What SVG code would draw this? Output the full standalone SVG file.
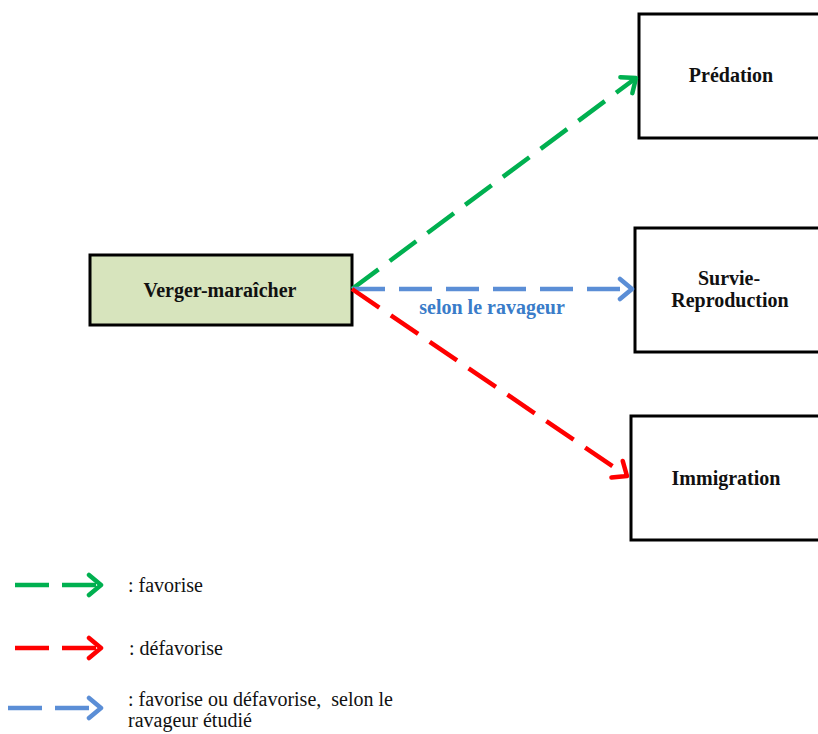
<svg xmlns="http://www.w3.org/2000/svg" width="818" height="734" viewBox="0 0 818 734">
  <style>
    .box { fill: #ffffff; stroke: #000000; stroke-width: 3; }
    .main { fill: #d7e4bd; }
    .lbl { font-family: "Liberation Serif", "Times New Roman", serif; font-size: 20px; font-weight: bold; fill: #111111; text-anchor: middle; }
    .leg { font-family: "Liberation Serif", "Times New Roman", serif; font-size: 20px; fill: #111111; white-space: pre; }
    .conn { fill: none; stroke-width: 4.5; stroke-dasharray: 33 14; }
    .g { stroke: #00b050; }
    .r { stroke: #ff0000; }
    .b { stroke: #5b8ed6; }
  </style>
  <defs>
    <marker id="ag" markerUnits="userSpaceOnUse" markerWidth="30" markerHeight="30" viewBox="-15 -15 30 30" refX="0" refY="0" orient="auto">
      <path d="M -12 -10 L 0 0 L -12 10" fill="none" stroke="#00b050" stroke-width="4.5" stroke-linecap="round" stroke-linejoin="round"/>
    </marker>
    <marker id="ar" markerUnits="userSpaceOnUse" markerWidth="30" markerHeight="30" viewBox="-15 -15 30 30" refX="0" refY="0" orient="auto">
      <path d="M -12 -10 L 0 0 L -12 10" fill="none" stroke="#ff0000" stroke-width="4.5" stroke-linecap="round" stroke-linejoin="round"/>
    </marker>
    <marker id="ab" markerUnits="userSpaceOnUse" markerWidth="30" markerHeight="30" viewBox="-15 -15 30 30" refX="0" refY="0" orient="auto">
      <path d="M -12 -10 L 0 0 L -12 10" fill="none" stroke="#5b8ed6" stroke-width="4.5" stroke-linecap="round" stroke-linejoin="round"/>
    </marker>
  </defs>
  <rect width="818" height="734" fill="#ffffff"/>

  <g id="node-verger">
    <rect class="box main" x="90" y="255" width="262" height="70"/>
    <text class="lbl" x="220" y="297">Verger-maraîcher</text>
  </g>
  <g id="node-predation">
    <rect class="box" x="639" y="14" width="190" height="124"/>
    <text class="lbl" x="731" y="82">Prédation</text>
  </g>
  <g id="node-survie">
    <rect class="box" x="635" y="228" width="190" height="124"/>
    <text class="lbl" x="729" y="285">Survie-</text>
    <text class="lbl" x="730" y="307">Reproduction</text>
  </g>
  <g id="node-immigration">
    <rect class="box" x="631" y="416" width="190" height="124"/>
    <text class="lbl" x="726" y="485">Immigration</text>
  </g>

  <g id="connectors">
    <line class="conn g" x1="352" y1="289" x2="636" y2="78" marker-end="url(#ag)"/>
    <line class="conn b" x1="352" y1="289" x2="632" y2="289" marker-end="url(#ab)"/>
    <line class="conn r" x1="352" y1="289" x2="627" y2="476" marker-end="url(#ar)"/>
    <text class="lbl" x="492" y="314" style="fill:#3a7cc9">selon le ravageur</text>
  </g>

  <g id="legend">
    <line class="conn g" x1="15" y1="585" x2="101" y2="585" style="stroke-dasharray:34 13" marker-end="url(#ag)"/>
    <text class="leg" x="128" y="592">: favorise</text>
    <line class="conn r" x1="15" y1="648" x2="101" y2="648" style="stroke-dasharray:34 13" marker-end="url(#ar)"/>
    <text class="leg" x="129" y="655">: défavorise</text>
    <line class="conn b" x1="8" y1="708" x2="101" y2="708" style="stroke-dasharray:34 13" marker-end="url(#ab)"/>
    <text class="leg" x="128" y="706">: favorise ou défavorise,  selon le</text>
    <text class="leg" x="128" y="727">ravageur étudié</text>
  </g>
</svg>
